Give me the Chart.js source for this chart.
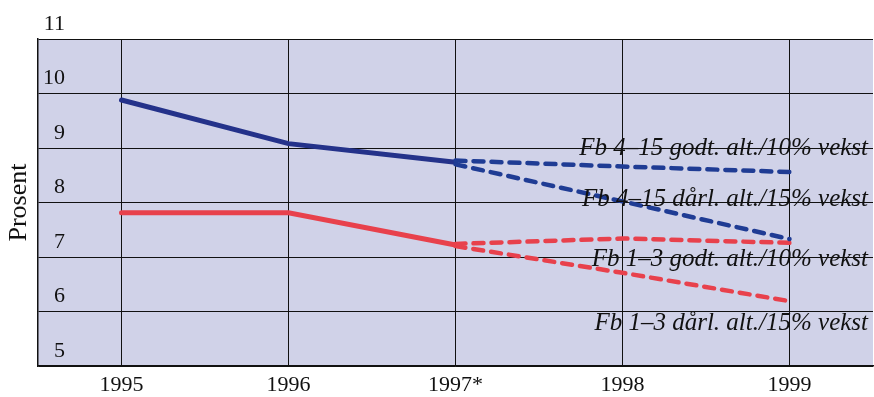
<!DOCTYPE html>
<html><head><meta charset="utf-8">
<script src="https://cdn.jsdelivr.net/npm/chart.js@4/dist/chart.umd.min.js"></script>
<style>html,body{margin:0;padding:0;background:#fff;}#wrap{width:874px;height:397px;}</style>
</head><body><div id="wrap"><canvas id="c" width="874" height="397"></canvas></div>
<script>
const categories = ['1995','1996','1997*','1998','1999'];
const fb415Actual = [9.88, 9.08, 8.74, null, null];
const fb13Actual = [7.81, 7.81, 7.22, null, null];
const fb415Godt = [null, null, 8.77, 8.66, 8.56];
const fb415Darl = [null, null, 8.70, 8.02, 7.33];
const fb13Godt = [null, null, 7.24, 7.34, 7.26];
const fb13Darl = [null, null, 7.20, 6.71, 6.19];
const yTicks = [5, 6, 7, 8, 9, 10, 11];
const seriesLabels = [
  {text: 'Fb 4\u201315 godt. alt./10% vekst', value: 9.0},
  {text: 'Fb 4\u201315 dårl. alt./15% vekst', value: 8.05},
  {text: 'Fb 1\u20133 godt. alt./10% vekst', value: 6.95},
  {text: 'Fb 1\u20133 dårl. alt./15% vekst', value: 5.79}
];

const BLUE = '#24328a', BLUE_D = '#1f3c94', RED = '#e8414c';
const serif = '"Liberation Serif", "DejaVu Serif", serif';

const bgPlugin = {
  id: 'bg',
  beforeDraw(chart) {
    const {ctx, chartArea: a} = chart;
    ctx.save();
    ctx.fillStyle = '#d0d2e8';
    ctx.fillRect(a.left, a.top, a.right - a.left, a.bottom - a.top);
    ctx.restore();
  }
};
const labelPlugin = {
  id: 'lbls',
  afterDatasetsDraw(chart) {
    const {ctx, chartArea: a, scales: {y}} = chart;
    ctx.save();
    ctx.font = 'italic 25px ' + serif;
    ctx.fillStyle = '#111';
    ctx.textAlign = 'right';
    ctx.textBaseline = 'middle';
    seriesLabels.forEach(l => ctx.fillText(l.text, a.right - 5, y.getPixelForValue(l.value)));
    ctx.restore();
  }
};

const solid = (data, color) => ({data, borderColor: color, borderWidth: 5, pointRadius: 0, fill: false, tension: 0, borderCapStyle: 'round'});
const dashed = (data, color) => ({data, borderColor: color, borderWidth: 4.5, borderDash: [10, 8], pointRadius: 0, fill: false, tension: 0, borderCapStyle: 'round'});

new Chart(document.getElementById('c'), {
  type: 'line',
  data: {
    labels: categories,
    datasets: [
      dashed(fb415Godt, BLUE_D),
      dashed(fb415Darl, BLUE_D),
      dashed(fb13Godt, RED),
      dashed(fb13Darl, RED),
      solid(fb415Actual, BLUE),
      solid(fb13Actual, RED)
    ]
  },
  options: {
    responsive: false,
    animation: false,
    events: [],
    layout: {padding: {top: 39, right: 1, left: 4, bottom: 0}},
    plugins: {legend: {display: false}, tooltip: {enabled: false}},
    scales: {
      x: {
        offset: true,
        afterFit(s) { s.height = 31; },
        grid: {color: '#111', lineWidth: 1, drawTicks: false, offset: false},
        border: {color: '#111', width: 1.5},
        ticks: {font: {family: serif, size: 22}, color: '#111', padding: 6, maxRotation: 0}
      },
      y: {
        min: 5, max: 11,
        afterFit(s) { s.width = 34; },
        afterBuildTicks(s) { s.ticks = yTicks.map(v => ({value: v})); },
        grid: {color: '#111', lineWidth: 1, drawTicks: false},
        border: {color: '#111', width: 1.5},
        ticks: {mirror: true, crossAlign: 'far', padding: 5, labelOffset: -15, font: {family: serif, size: 22}, color: '#111'},
        title: {display: true, text: 'Prosent', font: {family: serif, size: 26}, color: '#111', padding: {top: 0, bottom: 0}}
      }
    }
  },
  plugins: [bgPlugin, labelPlugin]
});
</script>
</body></html>
